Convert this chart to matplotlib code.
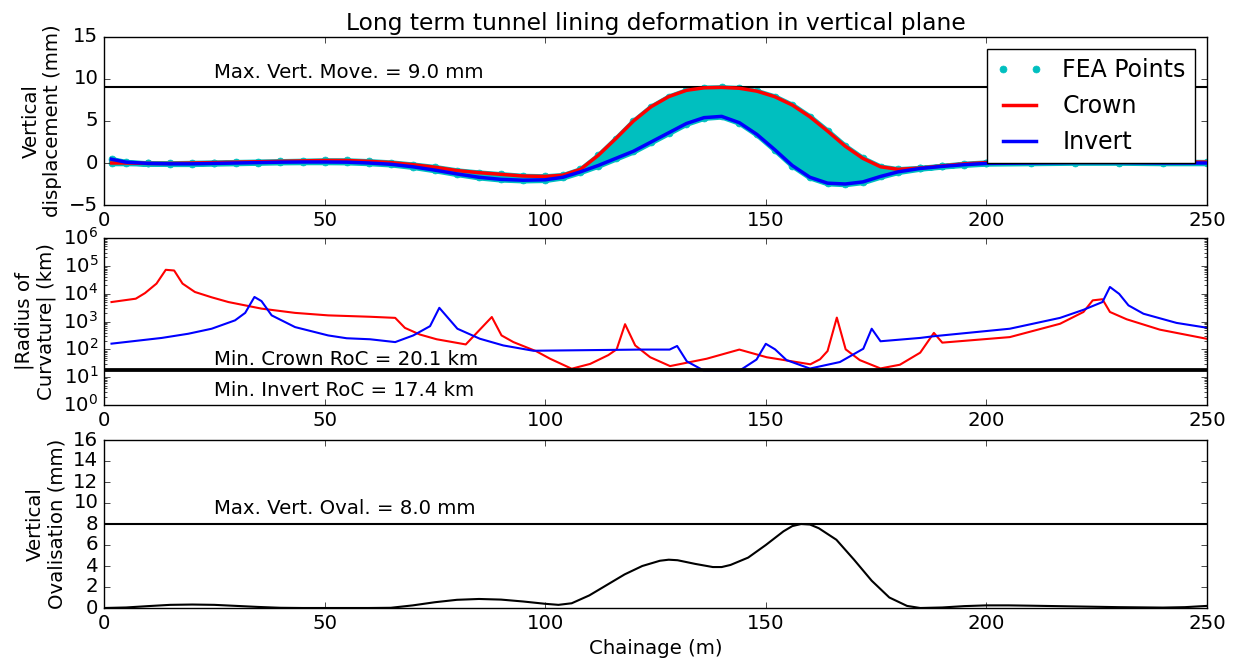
import numpy as np
import matplotlib
matplotlib.use("Agg")
import matplotlib.pyplot as plt

plt.style.use("classic")

# ---------------- vertical displacement (mm) ----------------
chainage = [1.7, 5, 10, 15, 20, 25, 30, 35, 40, 45, 50, 55, 60, 65, 70, 75, 80, 85,
            90, 95, 100, 104, 108, 112, 116, 120, 124, 128, 132, 136, 140, 144, 148,
            152, 156, 160, 164, 168, 172, 176, 180, 185, 190, 195, 200, 210, 220,
            230, 240, 250]
crown_disp = [0.0, 0.0, -0.05, -0.05, 0.0, 0.05, 0.1, 0.15, 0.2, 0.25, 0.3, 0.3, 0.2,
              0.05, -0.2, -0.5, -0.9, -1.15, -1.35, -1.55, -1.6, -1.45, -0.75, 0.9,
              2.9, 5.0, 6.7, 7.9, 8.65, 8.95, 9.0, 8.9, 8.55, 7.9, 6.9, 5.5, 3.8,
              2.0, 0.55, -0.45, -0.75, -0.6, -0.35, -0.1, 0.05, 0.15, 0.2, 0.2, 0.15,
              0.1]
invert_disp = [0.45, 0.1, -0.05, -0.1, -0.1, -0.05, 0.0, 0.05, 0.1, 0.12, 0.12, 0.1,
               0.0, -0.15, -0.45, -0.85, -1.3, -1.7, -1.95, -2.05, -2.0, -1.7, -1.05,
               -0.3, 0.55, 1.4, 2.5, 3.6, 4.7, 5.4, 5.55, 4.8, 3.4, 1.6, -0.3, -1.7,
               -2.4, -2.5, -2.25, -1.6, -1.05, -0.65, -0.4, -0.2, -0.05, 0.0, 0.05,
               0.05, 0.0, 0.0]
max_vert_move = 9.0

# ---------------- radius of curvature (km) ----------------
crown_roc_ch = [1.7, 7.2, 9.3, 11.9, 14.0, 15.9, 17.8, 20.6, 24.4, 28.2, 35.7, 43.3,
                50.8, 60.3, 66.0, 68.2, 71.6, 75.4, 82.0, 87.9, 90.1, 92.8, 98.0,
                101.1, 106.0, 110.2, 114.3, 116.2, 118.1, 120.4, 123.8, 128.3, 136.6,
                144.0, 150.2, 160.1, 162.3, 164.0, 166.1, 168.1, 171.3, 176.0, 180.4,
                185.0, 188.1, 190.0, 205.3, 216.7, 222.0, 224.1, 226.3, 228.0, 231.8,
                239.3, 249.9]
crown_roc = [5000, 6600, 10500, 23000, 72000, 68000, 23000, 11500, 7400, 5000, 2900,
             2040, 1660, 1480, 1350, 590, 340, 230, 150, 1450, 316, 182, 85, 46, 20.1,
             30, 62, 100, 800, 138, 52, 25, 46, 98, 52, 29, 44, 87, 1380, 100, 41,
             20.6, 28, 76, 390, 174, 275, 830, 2200, 5750, 6300, 2200, 1200, 510, 240]

invert_roc_ch = [1.7, 13.1, 19.1, 24.4, 29.7, 32.0, 34.1, 35.7, 38.0, 43.3, 50.8,
                 55.0, 60.3, 66.0, 70.1, 73.9, 76.0, 80.1, 85.2, 90.5, 97.3, 121.5,
                 128.2, 129.9, 132.1, 135.9, 144.1, 147.9, 150.0, 152.1, 154.7, 160.0,
                 166.8, 172.1, 174.0, 176.0, 185.0, 188.0, 205.3, 216.7, 222.0, 226.3,
                 228.0, 230.1, 232.2, 235.6, 243.1, 249.9]
invert_roc = [160, 257, 363, 550, 1100, 2040, 7600, 5400, 1660, 630, 316, 250, 230,
              182, 316, 680, 3100, 550, 240, 138, 89, 98, 98, 132, 37, 17.4, 17.4, 43,
              158, 100, 41, 20.4, 35, 105, 550, 195, 257, 295, 550, 1350, 2630, 5000,
              17400, 9800, 3800, 1900, 890, 600]
min_crown_roc = 20.1
min_invert_roc = 17.4

# ---------------- vertical ovalisation (mm) ----------------
oval_ch = [0, 5, 10, 15, 20, 25, 30, 35, 40, 45, 50, 55, 60, 65, 70, 75, 80, 85, 90,
           95, 100, 103, 106, 110, 114, 118, 122, 126, 128, 130, 134, 138, 140, 142,
           146, 150, 154, 156, 158, 160, 162, 166, 170, 174, 178, 182, 185, 190, 195,
           200, 205, 210, 220, 230, 240, 245, 250]
oval = [0.0, 0.05, 0.18, 0.3, 0.33, 0.3, 0.2, 0.1, 0.02, 0.0, 0.0, 0.0, 0.0, 0.02,
        0.25, 0.55, 0.78, 0.86, 0.8, 0.62, 0.4, 0.3, 0.45, 1.2, 2.2, 3.2, 4.0, 4.5,
        4.6, 4.55, 4.2, 3.9, 3.9, 4.1, 4.8, 6.0, 7.3, 7.8, 8.0, 7.95, 7.6, 6.5, 4.6,
        2.6, 1.0, 0.2, 0.0, 0.05, 0.18, 0.25, 0.25, 0.22, 0.15, 0.08, 0.04, 0.08, 0.2]
max_vert_oval = 8.0

xticks = [0, 50, 100, 150, 200, 250]
FS = 14.2

fig = plt.figure(figsize=(12.37, 6.68), dpi=100, facecolor="white")
L, W = 104 / 1237, 1103 / 1237
ax1 = fig.add_axes([L, 1 - 205 / 668, W, 168 / 668])
ax2 = fig.add_axes([L, 1 - 405 / 668, W, 167 / 668])
ax3 = fig.add_axes([L, 1 - 608 / 668, W, 168 / 668])

# --- displacement panel ---
ax1.fill_between(chainage, invert_disp, crown_disp, facecolor="c", edgecolor="c",
                 linewidth=4, zorder=1)
ax1.plot(chainage, crown_disp, "o", color="c", mec="c", ms=5, label="FEA Points",
         zorder=1)
ax1.plot(chainage, invert_disp, "o", color="c", mec="c", ms=5, zorder=1)
ax1.plot(chainage, crown_disp, "r-", lw=2.5, label="Crown", zorder=3)
ax1.plot(chainage, invert_disp, "b-", lw=2.5, label="Invert", zorder=4)
ax1.axhline(max_vert_move, color="k", lw=1.5, zorder=2)
ax1.text(25, 10.1, "Max. Vert. Move. = %.1f mm" % max_vert_move, fontsize=FS)
ax1.set_xlim(0, 250)
ax1.set_ylim(-5, 15)
ax1.set_yticks([-5, 0, 5, 10, 15])
ax1.set_xticks(xticks)
ax1.set_ylabel("Vertical\ndisplacement (mm)", fontsize=FS)
ax1.set_title("Long term tunnel lining deformation in vertical plane", fontsize=16.8)
ax1.legend(loc="upper right", numpoints=2, fontsize=17)

# --- radius of curvature panel ---
ax2.plot(crown_roc_ch, crown_roc, "r-", lw=1.5)
ax2.plot(invert_roc_ch, invert_roc, "b-", lw=1.5)
ax2.axhline(min_crown_roc, color="k", lw=2)
ax2.axhline(min_invert_roc, color="k", lw=2)
ax2.set_yscale("log")
ax2.set_ylim(1, 1e6)
ax2.set_xlim(0, 250)
ax2.set_xticks(xticks)
ax2.text(25, 27, "Min. Crown RoC = %.1f km" % min_crown_roc, fontsize=FS)
ax2.text(25, 2.1, "Min. Invert RoC = %.1f km" % min_invert_roc, fontsize=FS)
ax2.set_ylabel("|Radius of\nCurvature| (km)", fontsize=FS)

# --- ovalisation panel ---
ax3.plot(oval_ch, oval, "k-", lw=1.5)
ax3.axhline(max_vert_oval, color="k", lw=1.5)
ax3.text(25, 9.0, "Max. Vert. Oval. = %.1f mm" % max_vert_oval, fontsize=FS)
ax3.set_xlim(0, 250)
ax3.set_ylim(0, 16)
ax3.set_yticks(range(0, 17, 2))
ax3.set_xticks(xticks)
ax3.set_ylabel("Vertical\nOvalisation (mm)", fontsize=FS)
ax3.set_xlabel("Chainage (m)", fontsize=FS)

for ax in (ax1, ax2, ax3):
    ax.tick_params(labelsize=FS)

fig.savefig("out.png", dpi=100, facecolor="white")
